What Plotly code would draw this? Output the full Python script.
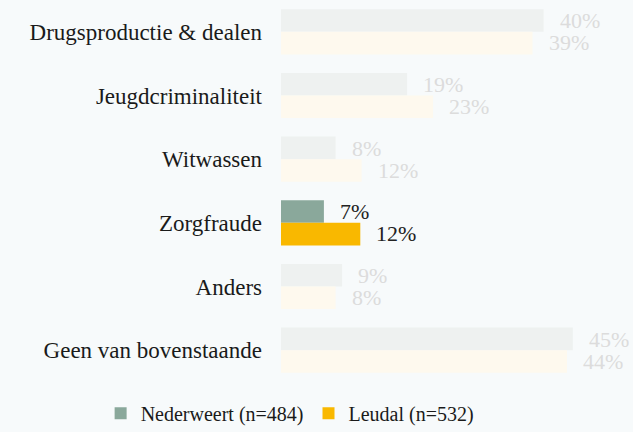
import plotly.graph_objects as go

categories = ["Drugsproductie & dealen", "Jeugdcriminaliteit", "Witwassen",
              "Zorgfraude", "Anders", "Geen van bovenstaande"]
nederweert = [40.4, 19.4, 8.4, 6.6, 9.4, 44.9]
leudal = [38.7, 23.4, 12.4, 12.2, 8.4, 44.0]
series_names = ["Nederweert (n=484)", "Leudal (n=532)"]
highlight = "Zorgfraude"

FONT = "Liberation Serif"
BG = "#f7fafb"
colors_full = ["#8aa89b", "#f9b800"]
colors_faded = ["#eef1f0", "#fef9ee"]
text_full = "#222222"
text_faded = "#dcdcdc"

fig = go.Figure()
for i, (name, vals) in enumerate(zip(series_names, [nederweert, leudal])):
    fig.add_trace(go.Bar(
        y=categories, x=vals, orientation="h", name=name,
        marker=dict(color=[colors_full[i] if c == highlight else colors_faded[i] for c in categories],
                    line=dict(width=0)),
        showlegend=False, hoverinfo="skip",
    ))
for i, name in enumerate(series_names):
    # legend proxy with full colour (scatter does not affect bar grouping)
    fig.add_trace(go.Scatter(y=[None], x=[None], mode="markers", name=name,
                             marker=dict(color=colors_full[i], symbol="square", size=12),
                             showlegend=True))

ann = []
for i, vals in enumerate([nederweert, leudal]):
    for c, v in zip(categories, vals):
        ann.append(dict(
            x=v, y=c, xref="x", yref="y", text=f"{round(v)}%",
            showarrow=False, xanchor="left", xshift=14,
            yshift=(11 if i == 0 else -11),
            font=dict(family=FONT, size=22, color=text_full if c == highlight else text_faded),
        ))

fig.update_layout(
    width=633, height=432,
    barmode="group", bargap=0.29, bargroupgap=0,
    paper_bgcolor=BG, plot_bgcolor=BG,
    margin=dict(l=281, r=27, t=0, b=50, autoexpand=False),
    font=dict(family=FONT, size=22, color="#1a1a1a"),
    xaxis=dict(range=[0, 50], visible=False, fixedrange=True),
    yaxis=dict(autorange="reversed", showgrid=False, zeroline=False, showline=False,
               automargin=False, ticks="", ticklabelstandoff=18,
               tickfont=dict(family=FONT, size=23, color="#1a1a1a")),
    legend=dict(orientation="h", x=-0.555, xanchor="left",
                y=-0.082, yanchor="middle",
                font=dict(family=FONT, size=20, color="#1a1a1a"),
                bgcolor="rgba(0,0,0,0)", itemwidth=30, traceorder="normal"),
    annotations=ann,
    showlegend=True,
)
fig.write_html("out.html", config={"displayModeBar": False},
               post_script="document.body.style.margin='0';document.body.style.background='%s';" % BG)
